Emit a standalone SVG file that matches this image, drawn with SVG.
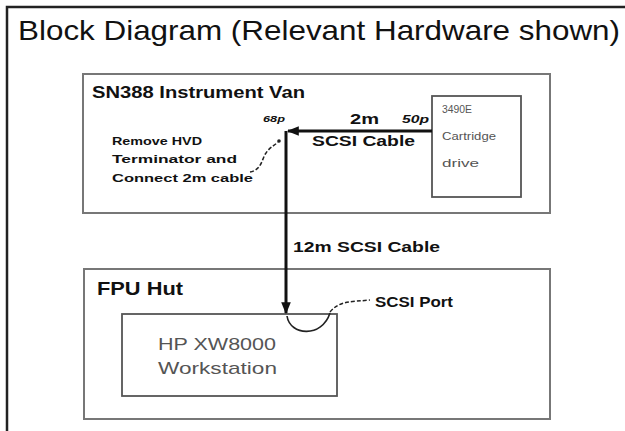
<svg xmlns="http://www.w3.org/2000/svg" width="625" height="431" viewBox="0 0 625 431">
<defs>
<marker id="arr" viewBox="0 0 10 10" refX="9" refY="5" markerWidth="4" markerHeight="4" orient="auto-start-reverse" markerUnits="strokeWidth">
<path d="M0,1 L10,5 L0,9 z" fill="#111"/>
</marker>
<style>
.box{fill:none;stroke:#777;stroke-width:2}
.ibox{fill:none;stroke:#555;stroke-width:1.8}
.t{font-family:"Liberation Sans","DejaVu Sans",sans-serif;fill:#111}
.b{font-weight:bold}
.g{fill:#555}
.cable{fill:none;stroke:#111;stroke-width:3}
.lead{fill:none;stroke:#222;stroke-width:1.5;stroke-dasharray:4 2}
</style>
</defs>
<rect width="625" height="431" fill="#fff"/>
<path d="M7,431 V7 H625" fill="none" stroke="#222" stroke-width="2.5"/>
<text class="t" x="18" y="40" font-size="28" textLength="602" lengthAdjust="spacingAndGlyphs" fill="#222">Block Diagram (Relevant Hardware shown)</text>

<g id="van">
<rect class="box" x="83" y="74" width="467" height="139"/>
<text class="t b" x="92" y="98" font-size="17" textLength="213" lengthAdjust="spacingAndGlyphs">SN388 Instrument Van</text>
</g>

<g id="cartridge">
<rect class="ibox" x="432" y="96" width="89" height="101"/>
<text class="t g" x="442" y="113" font-size="10" textLength="30" lengthAdjust="spacingAndGlyphs">3490E</text>
<text class="t g" x="442" y="140" font-size="10.5" textLength="54" lengthAdjust="spacingAndGlyphs">Cartridge</text>
<text class="t g" x="442" y="167" font-size="10.5" textLength="37" lengthAdjust="spacingAndGlyphs">drive</text>
</g>

<g id="note">
<text class="t b" x="112" y="145" font-size="11" fill="#333" textLength="90" lengthAdjust="spacingAndGlyphs">Remove HVD</text>
<text class="t b" x="112" y="163" font-size="11" fill="#333" textLength="125" lengthAdjust="spacingAndGlyphs">Terminator and</text>
<text class="t b" x="112" y="182" font-size="11" fill="#333" textLength="141" lengthAdjust="spacingAndGlyphs">Connect 2m cable</text>
</g>

<g id="fpu">
<rect class="box" x="84" y="269" width="466" height="150"/>
<text class="t b" x="97" y="295" font-size="18" textLength="86" lengthAdjust="spacingAndGlyphs">FPU Hut</text>
</g>

<g id="workstation">
<rect class="ibox" x="122" y="314" width="215" height="82"/>
<text class="t g" x="158" y="350" font-size="17" textLength="118" lengthAdjust="spacingAndGlyphs">HP XW8000</text>
<text class="t g" x="158" y="374" font-size="17" textLength="119" lengthAdjust="spacingAndGlyphs">Workstation</text>
</g>

<g id="connectors">
<path class="cable" d="M432,131 H288" marker-end="url(#arr)"/>
<path class="cable" d="M286,131 V313" marker-end="url(#arr)"/>
<path class="lead" d="M250,172 C262,170 262,158 266,153 C270,147 274,146 278,142"/>
<circle cx="279" cy="141" r="1.8" fill="#222"/>
<path d="M287,316 C290,336 322,338 330,313" fill="none" stroke="#222" stroke-width="1.6"/>
<path class="lead" d="M330,312 C340,300 352,302 370,300"/>
</g>

<g id="labels">
<text class="t b" x="263" y="122" font-size="9" font-style="italic" textLength="22" lengthAdjust="spacingAndGlyphs">68p</text>
<text class="t b" x="350" y="124" font-size="14" textLength="29" lengthAdjust="spacingAndGlyphs">2m</text>
<text class="t b" x="402" y="123" font-size="10" font-style="italic" textLength="27" lengthAdjust="spacingAndGlyphs">50p</text>
<text class="t b" x="312" y="146" font-size="14" textLength="103" lengthAdjust="spacingAndGlyphs">SCSI Cable</text>
<text class="t b" x="293" y="252" font-size="14" textLength="147" lengthAdjust="spacingAndGlyphs">12m SCSI Cable</text>
<text class="t b" x="375" y="307" font-size="14" textLength="78" lengthAdjust="spacingAndGlyphs">SCSI Port</text>
</g>
</svg>
